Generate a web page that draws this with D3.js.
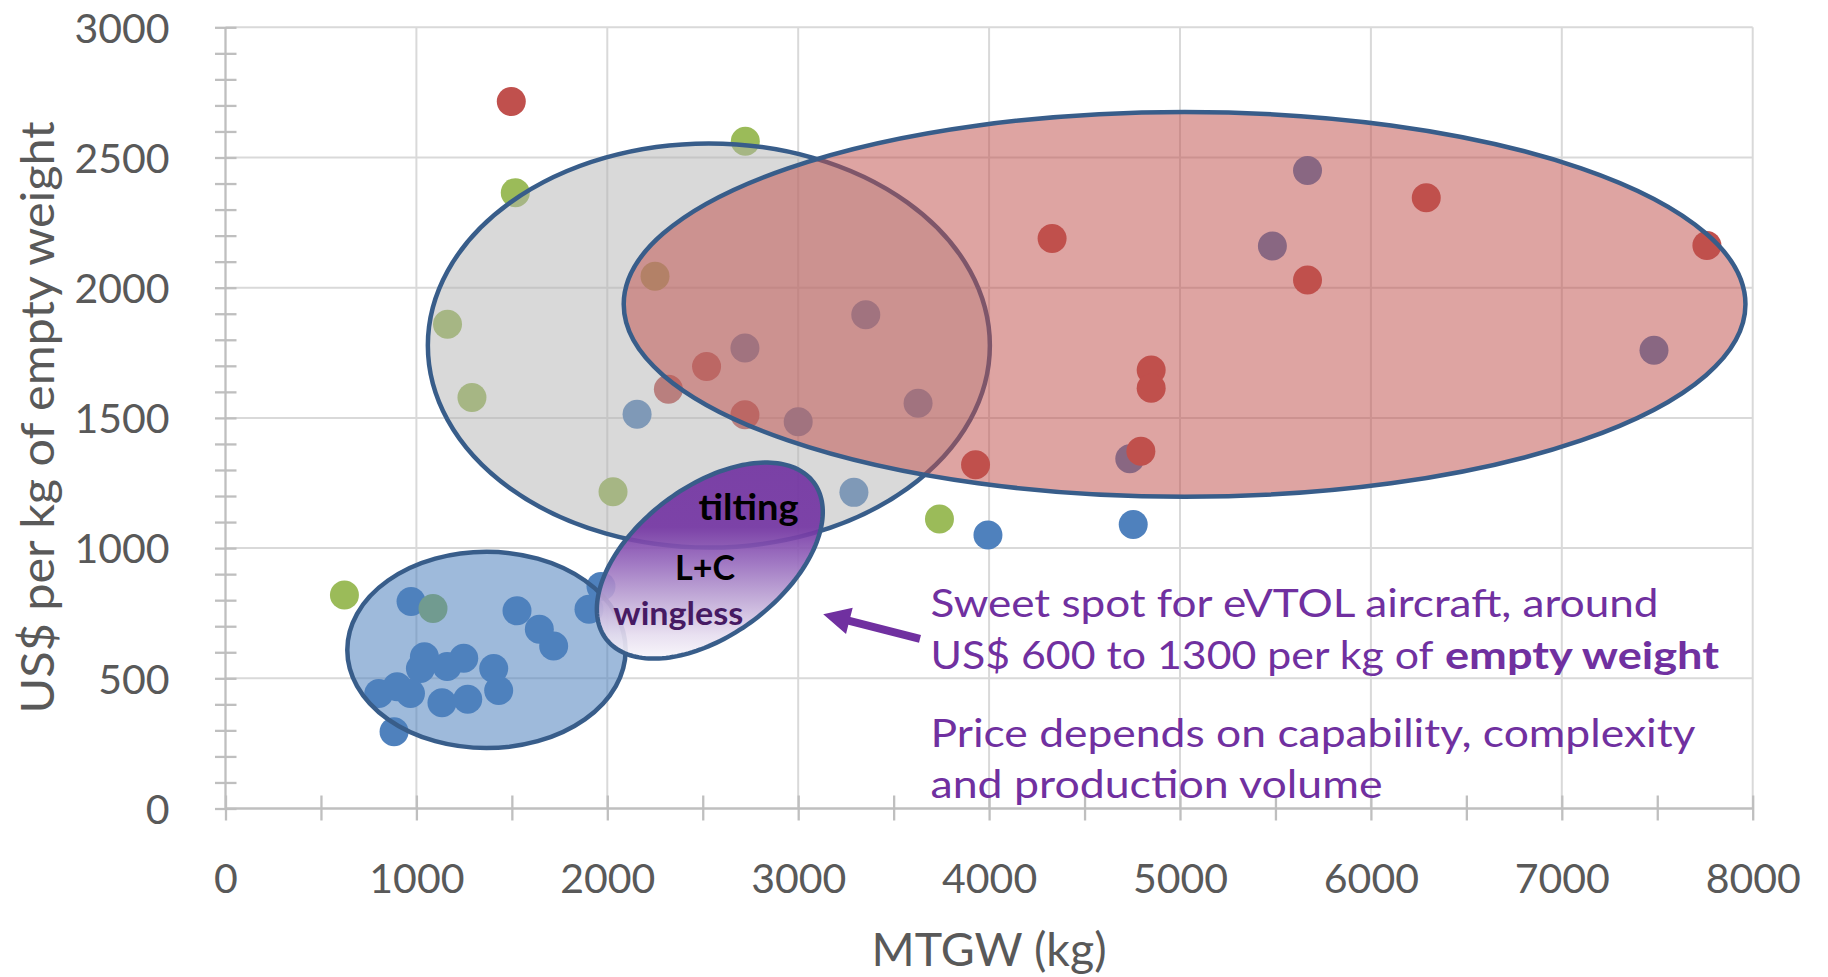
<!DOCTYPE html>
<html>
<head>
<meta charset="utf-8">
<script src="https://cdn.jsdelivr.net/npm/d3@7"></script>
<style>
  body { margin: 0; background: #ffffff; }
  svg { display: block; }
  text { font-family: Lato, "Open Sans", sans-serif; }
</style>
</head>
<body>
<svg id="chart" width="1828" height="977"></svg>
<script>
// Axis tick labels
const xTickValues = [0, 1000, 2000, 3000, 4000, 5000, 6000, 7000, 8000];
const yTickValues = [0, 500, 1000, 1500, 2000, 2500, 3000];

// Aircraft: [MTGW kg, US$ per kg of empty weight]
const redPoints = [
  [1497, 2715], [2520, 1697], [2320, 1610], [2721, 1512], [4330, 2189],
  [4849, 1684], [4849, 1614], [3929, 1320], [4795, 1372], [6290, 2345],
  [5668, 2030], [7760, 2162]
];
const greenPoints = [
  [1518, 2365], [2723, 2562], [1163, 1860], [1291, 1578], [2250, 2044],
  [2030, 1216], [623, 820], [1087, 768], [3740, 1112]
];
const bluePoints = [
  [5668, 2450], [5484, 2160], [7483, 1760], [3354, 1896], [2721, 1768],
  [3000, 1485], [3628, 1556], [4737, 1343], [2156, 1514], [3292, 1214],
  [3994, 1050], [4755, 1091], [1967, 853], [1904, 765], [1527, 759],
  [1644, 688], [1719, 624], [972, 795], [1042, 583], [1248, 577],
  [1161, 545], [1021, 538], [1405, 538], [899, 468], [803, 442],
  [969, 442], [1134, 406], [1269, 420], [1431, 453], [883, 295]
];

// Grouping ellipses, in data units
const zoneHelicopter = { cx: 2532, cy: 1778, rx: 1472, ry: 776 };
const zoneLarge = { cx: 5024, cy: 1936, rx: 2938, ry: 739 };
const zoneLight = { cx: 1367, cy: 609, rx: 729, ry: 377 };
const zoneEvtol = { cx: 2537, cy: 952, rx: 681, ry: 284, angle: -37 };

const svg = d3.select("#chart");
const x = d3.scaleLinear().domain([0, 8000]).range([225.5, 1752.7]);
const y = d3.scaleLinear().domain([0, 3000]).range([808.5, 27.3]);

const gridColor = "#d9d9d9";
const axisColor = "#bfbfbf";
const labelColor = "#595959";

// Gridlines
svg.append("g").selectAll("line")
  .data(xTickValues.filter(d => d > 0)).join("line")
  .attr("x1", d => x(d)).attr("x2", d => x(d))
  .attr("y1", y(0)).attr("y2", y(3000))
  .attr("stroke", gridColor).attr("stroke-width", 2);
svg.append("g").selectAll("line")
  .data(yTickValues.filter(d => d > 0)).join("line")
  .attr("x1", x(0)).attr("x2", x(8000))
  .attr("y1", d => y(d)).attr("y2", d => y(d))
  .attr("stroke", gridColor).attr("stroke-width", 2);

// Y axis
const gy = svg.append("g")
  .attr("transform", `translate(${x(0)},0)`)
  .call(d3.axisLeft(y)
    .tickValues(d3.range(0, 3001, 100))
    .tickFormat(d => yTickValues.includes(d) ? d : ""));
gy.attr("font-family", "Lato").attr("font-size", 41);
gy.select(".domain").remove();
gy.selectAll(".tick line").attr("x1", 11).attr("x2", -10.5)
  .attr("stroke", axisColor).attr("stroke-width", 2.3);
gy.selectAll(".tick text").attr("x", -56).attr("dy", "0.36em").attr("fill", labelColor);
gy.append("line").attr("x1", 0).attr("x2", 0).attr("y1", y(0)).attr("y2", y(3000))
  .attr("stroke", axisColor).attr("stroke-width", 2.3);

// X axis
const gx = svg.append("g")
  .attr("transform", `translate(0,${y(0)})`)
  .call(d3.axisBottom(x)
    .tickValues(d3.range(0, 8001, 500))
    .tickFormat(d => xTickValues.includes(d) ? d : ""));
gx.attr("font-family", "Lato").attr("font-size", 41);
gx.select(".domain").remove();
gx.selectAll(".tick line").attr("y1", -13).attr("y2", 12)
  .attr("stroke", axisColor).attr("stroke-width", 2.3);
gx.selectAll(".tick text").attr("y", 84.5).attr("dy", null).attr("fill", labelColor);
gx.append("line").attr("x1", x(0)).attr("x2", x(8000)).attr("y1", 0).attr("y2", 0)
  .attr("stroke", axisColor).attr("stroke-width", 2.3);

// Axis titles
svg.append("text")
  .attr("x", x(4000)).attr("y", 966)
  .attr("text-anchor", "middle")
  .attr("fill", labelColor).attr("font-size", 47)
  .attr("textLength", 235).attr("lengthAdjust", "spacingAndGlyphs")
  .text("MTGW (kg)");
svg.append("text")
  .attr("transform", "translate(53.5,417.4) rotate(-90)")
  .attr("text-anchor", "middle")
  .attr("fill", labelColor).attr("font-size", 47)
  .attr("textLength", 592).attr("lengthAdjust", "spacingAndGlyphs")
  .text("US$ per kg of empty weight");

// Points
const dotR = 14.5;
const series = [
  { pts: bluePoints, color: "#4f81bd" },
  { pts: greenPoints, color: "#9bbb59" },
  { pts: redPoints, color: "#c0504d" }
];
series.forEach(s => {
  svg.append("g").selectAll("circle").data(s.pts).join("circle")
    .attr("cx", d => x(d[0])).attr("cy", d => y(d[1]))
    .attr("r", dotR).attr("fill", s.color);
});

// Translucent grouping ellipses
const outline = "#385d8a";
const outlineW = 4.5;
function zone(z, fill) {
  svg.append("ellipse")
    .attr("cx", x(z.cx)).attr("cy", y(z.cy))
    .attr("rx", x(z.rx) - x(0)).attr("ry", y(0) - y(z.ry))
    .attr("fill", fill)
    .attr("stroke", outline).attr("stroke-width", outlineW);
}
zone(zoneHelicopter, "rgba(177,177,177,0.49)");
zone(zoneLarge, "rgba(192,80,77,0.52)");
zone(zoneLight, "rgba(79,129,189,0.55)");

// Tilted eVTOL ellipse with a vertical purple-to-white gradient
const ecx = x(zoneEvtol.cx), ecy = y(zoneEvtol.cy);
const ea = x(zoneEvtol.rx) - x(0), eb = y(0) - y(zoneEvtol.ry);
const th = zoneEvtol.angle * Math.PI / 180;
const ellPts = d3.range(0, 361, 2).map(t => {
  const r = t * Math.PI / 180;
  return [ecx + ea * Math.cos(r) * Math.cos(th) - eb * Math.sin(r) * Math.sin(th),
          ecy + ea * Math.cos(r) * Math.sin(th) + eb * Math.sin(r) * Math.cos(th)];
});
const yExt = Math.sqrt(ea * ea * Math.sin(th) ** 2 + eb * eb * Math.cos(th) ** 2);
const defs = svg.append("defs");
const grad = defs.append("linearGradient").attr("id", "evtolFill")
  .attr("gradientUnits", "userSpaceOnUse")
  .attr("x1", 0).attr("x2", 0).attr("y1", ecy - yExt).attr("y2", ecy + yExt);
[[0, "#7030a0"], [0.33, "#7232a2"], [0.5, "#9466bb"], [0.7, "#bea6d5"], [0.88, "#e6ddef"], [1, "#f8f6fb"]]
  .forEach(s => grad.append("stop").attr("offset", s[0]).attr("stop-color", s[1]));
svg.append("path")
  .attr("d", d3.line().curve(d3.curveLinearClosed)(ellPts))
  .attr("fill", "url(#evtolFill)").attr("fill-opacity", 0.9)
  .attr("stroke", outline).attr("stroke-width", outlineW);

// Labels inside the eVTOL ellipse
svg.append("text").attr("x", x(2740)).attr("y", y(1106))
  .attr("text-anchor", "middle").attr("font-weight", 700).attr("font-size", 37)
  .attr("fill", "#000000").attr("textLength", 100).attr("lengthAdjust", "spacingAndGlyphs")
  .text("tilting");
svg.append("text").attr("x", x(2512)).attr("y", y(877))
  .attr("text-anchor", "middle").attr("font-weight", 700).attr("font-size", 35)
  .attr("fill", "#000000").attr("textLength", 60).attr("lengthAdjust", "spacingAndGlyphs")
  .text("L+C");
svg.append("text").attr("x", x(2372)).attr("y", y(705))
  .attr("text-anchor", "middle").attr("font-weight", 700).attr("font-size", 32)
  .attr("fill", "#461a63").attr("textLength", 130).attr("lengthAdjust", "spacingAndGlyphs")
  .text("wingless");

// Arrow pointing at the eVTOL ellipse
const purple = "#7030a0";
const tail = [x(3638), y(651)], tip = [x(3131), y(746)];
const dx = tip[0] - tail[0], dy = tip[1] - tail[1];
const len = Math.hypot(dx, dy), ux = dx / len, uy = dy / len, px = -uy, py = ux;
const shaftW = 4, headL = 27, headW = 13.5;
const base = [tip[0] - ux * headL, tip[1] - uy * headL];
const arrowPts = [
  [tail[0] + px * shaftW, tail[1] + py * shaftW],
  [base[0] + px * shaftW, base[1] + py * shaftW],
  [base[0] + px * headW, base[1] + py * headW],
  tip,
  [base[0] - px * headW, base[1] - py * headW],
  [base[0] - px * shaftW, base[1] - py * shaftW],
  [tail[0] - px * shaftW, tail[1] - py * shaftW]
];
svg.append("path").attr("d", d3.line().curve(d3.curveLinearClosed)(arrowPts)).attr("fill", purple);

// Annotation text
const noteX = x(3693);
function note(str, baseY, len) {
  return svg.append("text").attr("x", noteX).attr("y", y(baseY))
    .attr("fill", purple).attr("font-size", 38)
    .attr("textLength", len).attr("lengthAdjust", "spacingAndGlyphs")
    .text(str);
}
note("Sweet spot for eVTOL aircraft, around", 735.4, 728);
note("US$ 600 to 1300 per kg of", 535.7, 503);
svg.append("text").attr("x", 1445).attr("y", y(535.7))
  .attr("fill", purple).attr("font-size", 38).attr("font-weight", 700)
  .attr("textLength", 274).attr("lengthAdjust", "spacingAndGlyphs")
  .text("empty weight");
note("Price depends on capability, complexity", 236.2, 765);
note("and production volume", 40.3, 452);
</script>
</body>
</html>
